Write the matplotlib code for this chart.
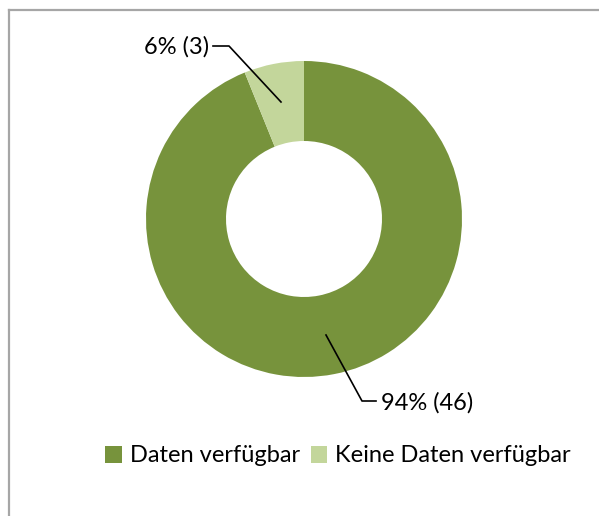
import matplotlib.pyplot as plt
from matplotlib.patches import Patch
from matplotlib.lines import Line2D

labels = ['Daten verfügbar', 'Keine Daten verfügbar']
counts = [46, 3]
pcts = [94, 6]
colors = ['#77933C', '#C3D69B']

plt.rcParams['font.family'] = ['Lato', 'DejaVu Sans']

W, H = 599, 516
R = 158.0  # outer radius in px
cx, cy = 304, 219  # pie centre in px (from top-left)

fig = plt.figure(figsize=(W / 100, H / 100), dpi=100)

# chart border (only top and left edges visible)
fig.add_artist(Line2D([8.5 / W, 1], [1 - 9.5 / H, 1 - 9.5 / H], transform=fig.transFigure,
                      color='#A6A6A6', lw=1.6))
fig.add_artist(Line2D([8.5 / W, 8.5 / W], [0, 1 - 9.5 / H], transform=fig.transFigure,
                      color='#A6A6A6', lw=1.6))

half = 220
ax = fig.add_axes([(cx - half) / W, (H - cy - half) / H, 2 * half / W, 2 * half / H])
ax.axis('off')

ax.pie(counts, colors=colors, startangle=90, counterclock=False, radius=1,
       wedgeprops=dict(width=80 / R, linewidth=0))
ax.set_xlim(-half / R, half / R)
ax.set_ylim(-half / R, half / R)
ax.set_aspect('equal')


def d(px, py):
    return ((px - cx) / R, (cy - py) / R)


# leader lines and labels
x0, y0 = d(281, 102)
x1, y1 = d(229, 46)
x2, y2 = d(213, 46)
ax.plot([x0, x1, x2], [y0, y1, y2], color='black', lw=1.2)
tx, ty = d(209, 47)
ax.text(tx, ty, f'{pcts[1]}% ({counts[1]})', ha='right', va='center', fontsize=17)

x0, y0 = d(326, 335)
x1, y1 = d(362, 401)
x2, y2 = d(376, 401)
ax.plot([x0, x1, x2], [y0, y1, y2], color='black', lw=1.2)
tx, ty = d(381, 403)
ax.text(tx, ty, f'{pcts[0]}% ({counts[0]})', ha='left', va='center', fontsize=17)

handles = [Patch(facecolor=c, edgecolor='none') for c in colors]
fig.legend(handles, labels, loc='center', bbox_to_anchor=(338 / W, 1 - 456 / H), ncol=2,
           frameon=False, fontsize=17, handlelength=0.7, handleheight=0.7,
           handletextpad=0.35, columnspacing=0.45, borderpad=0)

fig.savefig('out.png', dpi=100)
